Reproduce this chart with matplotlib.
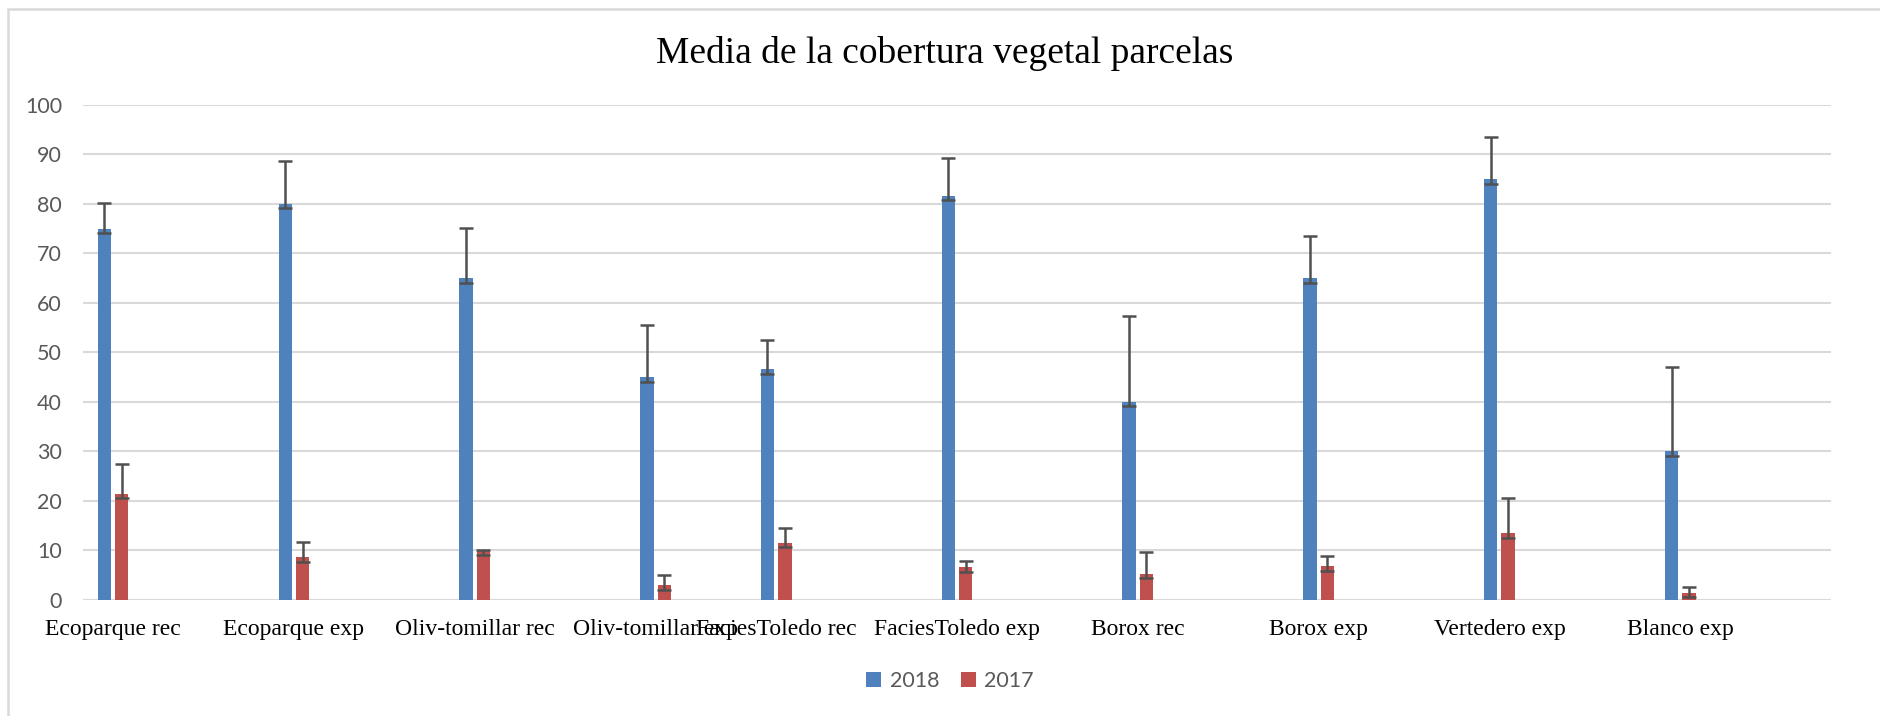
import numpy as np
import matplotlib
matplotlib.use('Agg')
import matplotlib.pyplot as plt
from matplotlib.patches import Rectangle

# the sheet has blank rows between plots, they keep an empty slot on the axis
categories = ['Ecoparque rec', '', '', 'Ecoparque exp', '', '', 'Oliv-tomillar rec', '', '',
              'Oliv-tomillar exp', '', 'FaciesToledo rec', '', '', 'FaciesToledo exp', '', '',
              'Borox rec', '', '', 'Borox exp', '', '', 'Vertedero exp', '', '', 'Blanco exp', '', '']

n = None
cover_2018 = [75, n, n, 80, n, n, 65, n, n, 45, n, 46.6, n, n, 81.6, n, n,
              40, n, n, 65, n, n, 85, n, n, 30, n, n]
cover_2017 = [21.5, n, n, 8.6, n, n, 10, n, n, 3, n, 11.6, n, n, 6.6, n, n,
              5.3, n, n, 6.8, n, n, 13.5, n, n, 1.5, n, n]
err_2018_up = [5.1, n, n, 8.6, n, n, 10.1, n, n, 10.6, n, 5.9, n, n, 7.7, n, n,
               17.3, n, n, 8.6, n, n, 8.5, n, n, 17.1, n, n]
err_2017_up = [5.9, n, n, 3.1, n, n, 0.1, n, n, 2.1, n, 3.0, n, n, 1.2, n, n,
               4.4, n, n, 2.1, n, n, 7.0, n, n, 1.1, n, n]
err_down = [0.9, n, n, 0.9, n, n, 0.9, n, n, 0.9, n, 0.9, n, n, 0.9, n, n,
            0.9, n, n, 0.9, n, n, 0.9, n, n, 0.9, n, n]

title = 'Media de la cobertura vegetal parcelas'
series_names = ['2018', '2017']
colors = ['#4F81BD', '#C0504D']


def to_arr(lst):
    return np.array([np.nan if v is None else v for v in lst], dtype=float)


fig = plt.figure(figsize=(18.81, 7.16), dpi=100)
ax = fig.add_axes([0.0441, 0.162, 0.9293, 0.6916])

x = np.arange(len(categories))
width = 0.223
offset = 0.144

series = [(cover_2018, err_2018_up), (cover_2017, err_2017_up)]
for i, (vals, up) in enumerate(series):
    pos = x + (offset if i else -offset)
    v = to_arr(vals)
    ax.bar(pos, v, width, color=colors[i], label=series_names[i], zorder=2)
    ax.errorbar(pos, v, yerr=[to_arr(err_down), to_arr(up)], fmt='none',
                ecolor='#505050', elinewidth=1.8, capsize=4.8, capthick=1.8, zorder=3)

ax.set_xlim(-0.5, len(categories) - 0.5)
ax.set_ylim(0, 100)
ax.set_yticks(range(0, 101, 10))
ax.yaxis.grid(True, color='#D9D9D9', linewidth=1.5, zorder=0)
ax.set_axisbelow(True)
for s in ax.spines.values():
    s.set_visible(False)
ax.axhline(0, color='#D9D9D9', linewidth=1.5, zorder=1)
ax.tick_params(axis='both', length=0)
ax.tick_params(axis='y', pad=15, labelsize=15.5, labelcolor='#595959')
for t in ax.get_yticklabels():
    t.set_family('Lato')

ax.set_xticks(x)
ax.set_xticklabels(categories, family='Liberation Serif', fontsize=17, color='black')
ax.tick_params(axis='x', pad=14)

fig.text(0.502, 0.9246, title, ha='center', va='center', family='Liberation Serif', fontsize=27)

leg = fig.legend(loc='center', bbox_to_anchor=(0.505, 0.049), ncol=2, frameon=False,
                 prop={'family': 'Lato', 'size': 15.5}, handlelength=0.7, handleheight=0.7,
                 handletextpad=0.4, columnspacing=1.0)
for t in leg.get_texts():
    t.set_color('#595959')

# light frame of the chart area, its right and bottom edge fall outside the image
fig.patches.append(Rectangle((8 / 1881, -0.1), 1.2, 1 - 9 / 716 + 0.1, transform=fig.transFigure,
                             fill=False, edgecolor='#D9D9D9', linewidth=1.8))

fig.savefig('out.png', dpi=100)
